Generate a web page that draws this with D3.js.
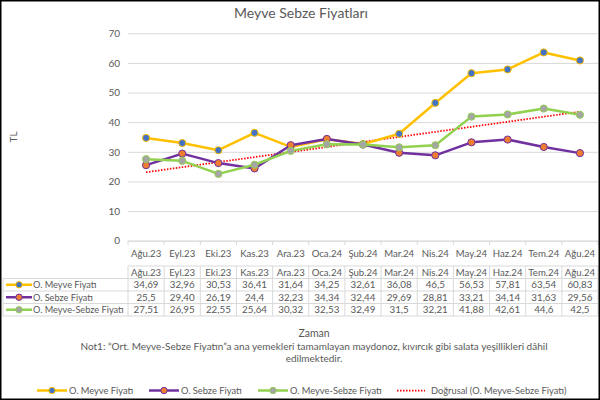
<!DOCTYPE html>
<html>
<head>
<meta charset="utf-8">
<script src="https://cdn.jsdelivr.net/npm/d3@7"></script>
<style>
  body { margin: 0; background: #fff; }
  text { font-family: Lato, "Open Sans", sans-serif; fill: #595959; }
</style>
</head>
<body>
<div id="chart"></div>
<script>
var months = ["Ağu.23", "Eyl.23", "Eki.23", "Kas.23", "Ara.23", "Oca.24", "Şub.24",
  "Mar.24", "Nis.24", "May.24", "Haz.24", "Tem.24", "Ağu.24"];
// table strings exactly as printed, numbers are parsed from them
var meyve = ["34,69", "32,96", "30,53", "36,41", "31,64", "34,25", "32,61", "36,08", "46,5", "56,53", "57,81", "63,54", "60,83"];
var sebze = ["25,5", "29,40", "26,19", "24,4", "32,23", "34,34", "32,44", "29,69", "28,81", "33,21", "34,14", "31,63", "29,56"];
var meyveSebze = ["27,51", "26,95", "22,55", "25,64", "30,32", "32,53", "32,49", "31,5", "32,21", "41,88", "42,61", "44,6", "42,5"];
var seriesNames = ["O. Meyve Fiyatı", "O. Sebze Fiyatı", "O. Meyve-Sebze Fiyatı"];
var trendName = "Doğrusal (O. Meyve-Sebze Fiyatı)";
var yTicks = [0, 10, 20, 30, 40, 50, 60, 70];

var width = 600, height = 400;
var num = s => +s.replace(",", ".");

var series = [
  { name: seriesNames[0], text: meyve, line: "#FFC000", dot: "#4472C4" },
  { name: seriesNames[1], text: sebze, line: "#7030A0", dot: "#ED7D31" },
  { name: seriesNames[2], text: meyveSebze, line: "#92D050", dot: "#A5A5A5" }
];

var svg = d3.select("#chart").append("svg")
  .attr("width", width)
  .attr("height", height);

var x = d3.scaleBand().domain(months).range([128, 598]).paddingInner(0);
var y = d3.scaleLinear().domain([0, 70]).range([240.7, 33.3]);
var cx = d => x(d) + x.bandwidth() / 2;

// title
svg.append("text")
  .attr("x", 301).attr("y", 18)
  .attr("text-anchor", "middle")
  .style("font-size", "14px")
  .text("Meyve Sebze Fiyatları");

// y label
svg.append("text")
  .attr("transform", "translate(17,137) rotate(-90)")
  .attr("text-anchor", "middle")
  .style("font-size", "10px")
  .text("TL");

// grid + y axis
var yAxis = svg.append("g")
  .attr("transform", "translate(128,0)")
  .call(d3.axisLeft(y).tickValues(yTicks).tickSize(-470).tickPadding(8));
yAxis.select(".domain").remove();
yAxis.selectAll("line").attr("stroke", "#d9d9d9");
yAxis.selectAll("text").style("font-size", "10px").style("fill", "#595959").style("font-family", "Lato");

// x axis ticks at band edges
var edges = months.map(d => x(d)).concat([598]);
svg.append("g").selectAll("line")
  .data(edges)
  .enter().append("line")
  .attr("x1", d => d).attr("x2", d => d)
  .attr("y1", 240.7).attr("y2", 245)
  .attr("stroke", "#d9d9d9");

var xAxis = svg.append("g")
  .attr("transform", "translate(0,240.7)")
  .call(d3.axisBottom(x).tickSize(0).tickPadding(9));
xAxis.select(".domain").attr("stroke", "#d9d9d9");
xAxis.selectAll("text").style("font-size", "9.6px").style("fill", "#595959").style("font-family", "Lato");

// trend line (least squares, as excel does)
var ms = meyveSebze.map(num);
var xm = d3.mean(ms, (d, i) => i), ym = d3.mean(ms);
var slope = d3.sum(ms, (d, i) => (i - xm) * (d - ym)) / d3.sum(ms, (d, i) => (i - xm) * (i - xm));
var icpt = ym - slope * xm;
svg.append("line")
  .attr("x1", cx(months[0])).attr("y1", y(icpt))
  .attr("x2", cx(months[months.length - 1])).attr("y2", y(icpt + slope * (months.length - 1)))
  .attr("stroke", "#FF0000")
  .attr("stroke-width", 1.75)
  .attr("stroke-dasharray", "1.5,1.5");

// series
var line = d3.line().x((d, i) => cx(months[i])).y(d => y(num(d)));
series.forEach(function(s) {
  svg.append("path")
    .attr("d", line(s.text))
    .attr("fill", "none")
    .attr("stroke", s.line)
    .attr("stroke-width", 2.5)
    .attr("stroke-linejoin", "round");
  svg.append("g").selectAll("circle")
    .data(s.text)
    .enter().append("circle")
    .attr("cx", (d, i) => cx(months[i]))
    .attr("cy", d => y(num(d)))
    .attr("r", 3.6)
    .attr("fill", s.dot)
    .attr("stroke", s.line)
    .attr("stroke-width", 1);
});

// data table
var rowY = [266, 278.5, 291, 303.5, 316];
var tbl = svg.append("g").attr("stroke", "#d9d9d9").attr("stroke-width", 1);
tbl.append("line").attr("x1", 128).attr("x2", 598).attr("y1", rowY[0]).attr("y2", rowY[0]);
rowY.slice(1).forEach(function(r) {
  tbl.append("line").attr("x1", 3).attr("x2", 598).attr("y1", r).attr("y2", r);
});
edges.forEach(function(e) {
  tbl.append("line").attr("x1", e).attr("x2", e).attr("y1", rowY[0]).attr("y2", rowY[4]);
});
tbl.append("line").attr("x1", 3).attr("x2", 3).attr("y1", rowY[1]).attr("y2", rowY[4]);

svg.append("g").selectAll("text")
  .data(months)
  .enter().append("text")
  .attr("x", d => cx(d)).attr("y", rowY[0] + 9.5)
  .attr("text-anchor", "middle")
  .style("font-size", "9.6px")
  .text(d => d);

series.forEach(function(s, k) {
  var ry = rowY[k + 1] + 6.25;
  svg.append("line")
    .attr("x1", 6).attr("x2", 32).attr("y1", ry).attr("y2", ry)
    .attr("stroke", s.line).attr("stroke-width", 2.5);
  svg.append("circle")
    .attr("cx", 19).attr("cy", ry).attr("r", 3.2)
    .attr("fill", s.dot).attr("stroke", s.line);
  svg.append("text")
    .attr("x", 33).attr("y", ry + 3.5)
    .style("font-size", "9.2px")
    .text(s.name);
  svg.append("g").selectAll("text")
    .data(s.text)
    .enter().append("text")
    .attr("x", (d, i) => cx(months[i])).attr("y", ry + 3.5)
    .attr("text-anchor", "middle")
    .style("font-size", "9.8px")
    .text(d => d);
});

// x title and note
svg.append("text")
  .attr("x", 314).attr("y", 337)
  .attr("text-anchor", "middle")
  .style("font-size", "10.5px")
  .text("Zaman");
svg.append("text")
  .attr("x", 314).attr("y", 350)
  .attr("text-anchor", "middle")
  .style("font-size", "10px")
  .text("Not1: “Ort. Meyve-Sebze Fiyatın”a ana yemekleri tamamlayan maydonoz, kıvırcık gibi salata yeşillikleri dâhil");
svg.append("text")
  .attr("x", 314).attr("y", 362)
  .attr("text-anchor", "middle")
  .style("font-size", "10px")
  .text("edilmektedir.");

// legend
var legX = [37, 149, 258];
series.forEach(function(s, k) {
  var lx = legX[k];
  svg.append("line")
    .attr("x1", lx).attr("x2", lx + 30).attr("y1", 390.5).attr("y2", 390.5)
    .attr("stroke", s.line).attr("stroke-width", 2.5);
  svg.append("circle")
    .attr("cx", lx + 15).attr("cy", 390.5).attr("r", 3.2)
    .attr("fill", s.dot).attr("stroke", s.line);
  svg.append("text")
    .attr("x", lx + 32).attr("y", 394)
    .style("font-size", "9.3px")
    .text(s.name);
});
svg.append("line")
  .attr("x1", 397).attr("x2", 425).attr("y1", 390.5).attr("y2", 390.5)
  .attr("stroke", "#FF0000").attr("stroke-width", 1.75)
  .attr("stroke-dasharray", "1.5,1.5");
svg.append("text")
  .attr("x", 431).attr("y", 394)
  .style("font-size", "9.3px")
  .text(trendName);

// frame
svg.append("rect")
  .attr("x", 0.75).attr("y", 0.75)
  .attr("width", width - 1.5).attr("height", height - 1.5)
  .attr("fill", "none")
  .attr("stroke", "#000")
  .attr("stroke-width", 1.5);
</script>
</body>
</html>
